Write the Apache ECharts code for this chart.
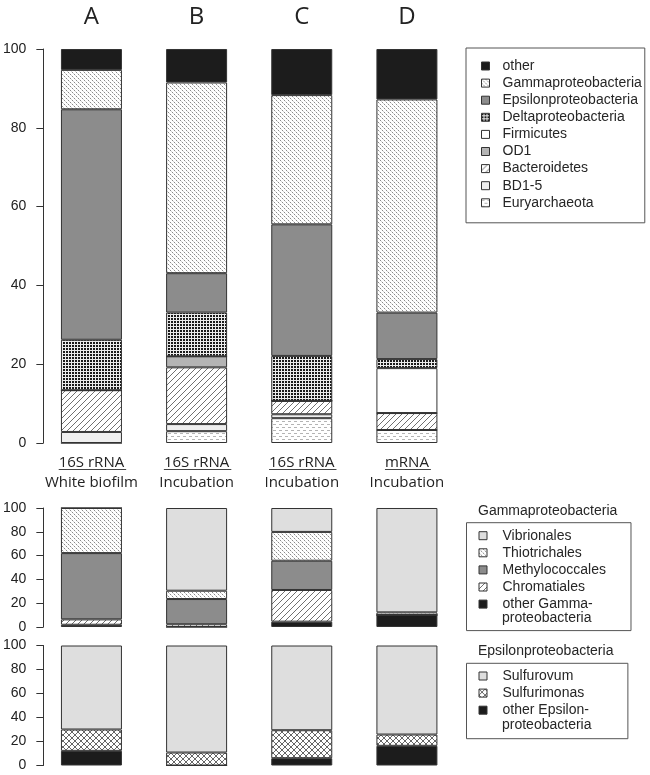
<!DOCTYPE html>
<html><head><meta charset="utf-8">
<script src="https://cdn.jsdelivr.net/npm/echarts@6/dist/echarts.min.js"></script>
<style>html,body{margin:0;padding:0;background:#fff}#c{width:650px;height:775px}</style>
</head><body><div id="c"></div>
<script>
// ---------- data ----------
const letters = ['A', 'B', 'C', 'D'];
const methods = ['16S rRNA', '16S rRNA', '16S rRNA', 'mRNA'];
const samples = ['White biofilm', 'Incubation', 'Incubation', 'Incubation'];

// main panel (%), stacked bottom -> top
const euryarchaeota = [0, 3.0, 6.3, 3.3];
const bd15 = [2.8, 1.8, 1.0, 0];
const bacteroidetes = [10.6, 14.4, 3.4, 4.3];
const od1 = [0, 2.8, 0, 0];
const firmicutes = [0, 0, 0, 11.4];
const deltaproteobacteria = [12.8, 11.1, 11.4, 2.3];
const epsilonproteobacteria = [58.5, 10.0, 33.4, 11.8];
const gammaproteobacteria = [10.0, 48.4, 32.8, 54.1];
const otherMain = [5.3, 8.5, 11.7, 12.8];

// Gammaproteobacteria panel (%)
const otherGamma = [1.9, 0, 4.5, 10.1];
const chromatiales = [4.5, 2.3, 26.6, 0];
const methylococcales = [55.7, 21.2, 24.6, 0];
const thiotrichales = [37.9, 7.0, 24.2, 2.2];
const vibrionales = [0, 69.5, 20.1, 87.7];

// Epsilonproteobacteria panel (%)
const otherEpsilon = [12.2, 0, 6.1, 16.4];
const sulfurimonas = [17.8, 10.8, 23.3, 9.4];
const sulfurovum = [70.0, 89.2, 70.6, 74.2];

const mainLegend = ['other', 'Gammaproteobacteria', 'Epsilonproteobacteria', 'Deltaproteobacteria',
  'Firmicutes', 'OD1', 'Bacteroidetes', 'BD1-5', 'Euryarchaeota'];
const gammaLegend = ['Vibrionales', 'Thiotrichales', 'Methylococcales', 'Chromatiales', 'other Gammaproteobacteria'];
const epsLegend = ['Sulfurovum', 'Sulfurimonas', 'other Epsilonproteobacteria'];
// how the two long legend names are broken over two lines
const legendSplit = {
  'other Gammaproteobacteria': ['other Gamma-', 'proteobacteria'],
  'other Epsilonproteobacteria': ['other Epsilon-', 'proteobacteria']
};

// ---------- patterns ----------
function tile(w, h, bg, draw) {
  const c = document.createElement('canvas');
  c.width = w; c.height = h;
  const ctx = c.getContext('2d');
  ctx.fillStyle = bg; ctx.fillRect(0, 0, w, h);
  draw(ctx);
  return { image: c, repeat: 'repeat' };
}
function px(ctx, x, y, col) { ctx.fillStyle = col; ctx.fillRect(x, y, 1, 1); }

const P_BACKDOT = tile(8, 8, '#ffffff', ctx => {
  for (let i = 0; i < 8; i++) {
    const col = i % 2 === 0 ? '#8a8a8a' : '#d4d4d4';
    px(ctx, i, i, col); px(ctx, i, (i + 4) % 8, col);
  }
});
const P_SLASH = tile(6, 6, '#ffffff', ctx => {
  for (let i = 0; i < 6; i++) px(ctx, i, 5 - i, '#707070');
});
const P_GRID = tile(3, 3, '#ececec', ctx => {
  ctx.fillStyle = '#1a1a1a'; ctx.fillRect(0, 0, 2, 2);
});
const P_DASH = tile(6, 6, '#ffffff', ctx => {
  ctx.fillStyle = '#b4b4b4';
  ctx.fillRect(0, 1, 3, 1); ctx.fillRect(3, 4, 3, 1);
});
const P_CROSS = tile(6, 6, '#ffffff', ctx => {
  for (let i = 0; i < 6; i++) { px(ctx, i, i, '#666'); px(ctx, i, 5 - i, '#666'); }
});

const C_BLACK = '#1c1c1c';
const C_DARK = '#8c8c8c';
const C_OD1 = '#b4b4b4';
const C_BD = '#efefef';
const C_LIGHT = '#dedede';

const FONT = 'Liberation Sans';
const TXT = '#262626';

// ---------- series ----------
function bar(name, data, color, stack, xi, yi) {
  return {
    type: 'bar', name, data, stack, xAxisIndex: xi, yAxisIndex: yi, barWidth: 61,
    itemStyle: { color, borderColor: '#333', borderWidth: 1 },
    emphasis: { disabled: true }, silent: true, animation: false
  };
}
const series = [
  bar('Euryarchaeota', euryarchaeota, P_DASH, 'm', 0, 0),
  bar('BD1-5', bd15, C_BD, 'm', 0, 0),
  bar('Bacteroidetes', bacteroidetes, P_SLASH, 'm', 0, 0),
  bar('OD1', od1, C_OD1, 'm', 0, 0),
  bar('Firmicutes', firmicutes, '#ffffff', 'm', 0, 0),
  bar('Deltaproteobacteria', deltaproteobacteria, P_GRID, 'm', 0, 0),
  bar('Epsilonproteobacteria', epsilonproteobacteria, C_DARK, 'm', 0, 0),
  bar('Gammaproteobacteria', gammaproteobacteria, P_BACKDOT, 'm', 0, 0),
  bar('other', otherMain, C_BLACK, 'm', 0, 0),

  bar('other Gammaproteobacteria', otherGamma, C_BLACK, 'g', 2, 1),
  bar('Chromatiales', chromatiales, P_SLASH, 'g', 2, 1),
  bar('Methylococcales', methylococcales, C_DARK, 'g', 2, 1),
  bar('Thiotrichales', thiotrichales, P_BACKDOT, 'g', 2, 1),
  bar('Vibrionales', vibrionales, C_LIGHT, 'g', 2, 1),

  bar('other Epsilonproteobacteria', otherEpsilon, C_BLACK, 'e', 3, 2),
  bar('Sulfurimonas', sulfurimonas, P_CROSS, 'e', 3, 2),
  bar('Sulfurovum', sulfurovum, C_LIGHT, 'e', 3, 2)
];

function yAx(gi) {
  return {
    type: 'value', gridIndex: gi, min: 0, max: 100, interval: 20, offset: -4.5,
    axisLine: { show: true, lineStyle: { color: '#333', width: 1 } },
    axisTick: { show: true, inside: false, length: 7, lineStyle: { color: '#333' } },
    splitLine: { show: false },
    axisLabel: { fontFamily: FONT, fontSize: 14, color: '#222', margin: 17 }
  };
}
function xHidden(gi) {
  return {
    type: 'category', gridIndex: gi, data: letters,
    axisLine: { show: false }, axisTick: { show: false }, axisLabel: { show: false }
  };
}

function legendBox(data, left, top, padding, textPad) {
  return {
    orient: 'vertical', left, top, padding, itemWidth: 8, itemHeight: 8, itemGap: 3.1,
    icon: 'rect', selectedMode: false, borderColor: '#555', borderWidth: 1,
    itemStyle: { borderColor: '#333', borderWidth: 1 },
    textStyle: { fontFamily: FONT, fontSize: 14, color: TXT, padding: [0, 0, 0, textPad] },
    formatter: n => legendSplit[n] ? legendSplit[n][0] : n,
    data
  };
}

const chart = echarts.init(document.getElementById('c'), null, { renderer: 'canvas' });
chart.setOption({
  animation: false,
  backgroundColor: '#ffffff',
  textStyle: { fontFamily: FONT },
  title: [
    { text: 'Gammaproteobacteria', left: 478, top: 504, padding: 0,
      textStyle: { fontFamily: FONT, fontSize: 14, fontWeight: 'normal', color: TXT } },
    { text: 'Epsilonproteobacteria', left: 478, top: 644, padding: 0,
      textStyle: { fontFamily: FONT, fontSize: 14, fontWeight: 'normal', color: TXT } }
  ],
  legend: [
    legendBox(mainLegend, 466, 48, [11, 3, 13, 15], 8),
    legendBox(gammaLegend, 466.5, 522.7, [6, 25, 19.5, 12], 10.5),
    legendBox(epsLegend, 466.5, 663.3, [5.7, 39, 21.5, 12], 10.5)
  ],
  grid: [
    { left: 35.5, width: 424, top: 49, height: 394 },
    { left: 35.5, width: 424, top: 508, height: 119 },
    { left: 35.5, width: 424, top: 645.5, height: 120 }
  ],
  xAxis: [
    {
      type: 'category', gridIndex: 0, data: letters, position: 'bottom',
      axisLine: { show: false }, axisTick: { show: false },
      axisLabel: {
        interval: 0, hideOverlap: false,
        fontFamily: 'Open Sans', fontSize: 15, color: '#222', lineHeight: 20, margin: 10,
        formatter: (v, i) => methods[i] + '\n' + samples[i]
      }
    },
    {
      type: 'category', gridIndex: 0, data: letters, position: 'top',
      axisLine: { show: false }, axisTick: { show: false },
      axisLabel: { interval: 0, fontFamily: 'Open Sans', fontSize: 24, color: '#222', margin: 20 }
    },
    xHidden(1),
    xHidden(2)
  ],
  yAxis: [yAx(0), yAx(1), yAx(2)],
  series
});

// underline the method line of each category label, and second lines of long legend names
const mctx = document.createElement('canvas').getContext('2d');
mctx.font = '15px "Open Sans"';
const y0 = chart.convertToPixel({ yAxisIndex: 0 }, 0);
const graphics = letters.map((l, i) => {
  const cx = chart.convertToPixel({ xAxisIndex: 0 }, i);
  const w = mctx.measureText(methods[i]).width;
  const y = Math.round(y0 + 27) - 0.5;
  return {
    type: 'line', silent: true,
    shape: { x1: cx - w / 2, y1: y, x2: cx + w / 2 + 2, y2: y },
    style: { stroke: '#444', lineWidth: 1 }
  };
});
[['other Gammaproteobacteria', 617.8], ['other Epsilonproteobacteria', 724.8]].forEach(([n, y]) => {
  graphics.push({
    type: 'text', silent: true, x: 502, y,
    style: { text: legendSplit[n][1], fontFamily: FONT, fontSize: 14, fill: TXT, verticalAlign: 'middle', align: 'left' }
  });
});
chart.setOption({ graphic: graphics });
</script>
</body></html>
